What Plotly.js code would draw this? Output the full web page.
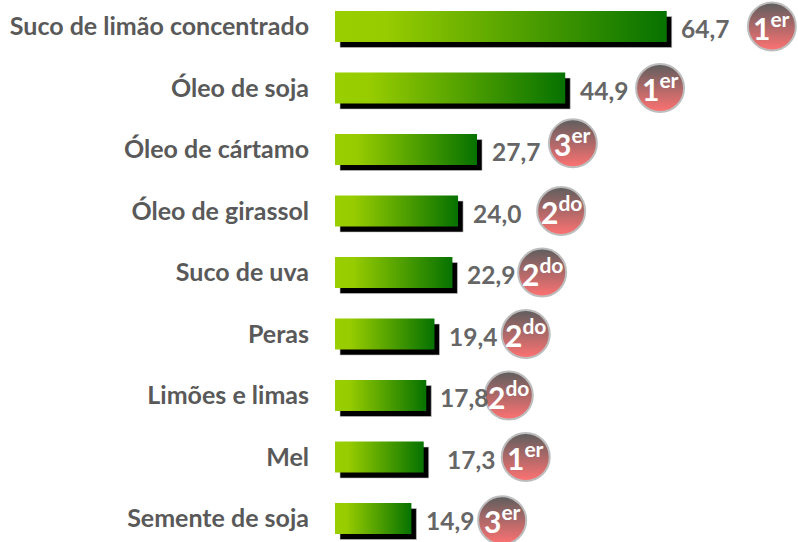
<!DOCTYPE html>
<html><head><meta charset="utf-8">
<script src="https://cdn.plot.ly/plotly-3.0.1.min.js"></script>
<style>html,body{margin:0;padding:0;background:#fff}#c{width:798px;height:542px}</style>
</head><body><div id="c"></div>
<script>
const categories=["Suco de limão concentrado","Óleo de soja","Óleo de cártamo","Óleo de girassol","Suco de uva","Peras","Limões e limas","Mel","Semente de soja"];
const values=[64.7,44.9,27.7,24.0,22.9,19.4,17.8,17.3,14.9];
const valueLabels=["64,7","44,9","27,7","24,0","22,9","19,4","17,8","17,3","14,9"];
const rows=[0,1,2,3,4,5,6,7,8];
const ranks=["1<sup>er</sup>","1<sup>er</sup>","3<sup>er</sup>","2<sup>do</sup>","2<sup>do</sup>","2<sup>do</sup>","2<sup>do</sup>","1<sup>er</sup>","3<sup>er</sup>"];
const badgeX=[85.2,63.4,46.4,44.1,40.4,37.2,33.9,37.2,32.6];
const badgeY=[0,1,1.9,3,4,5,6,7,8.03];
const labelGap=[12,13,13,13,13,13,12,21,13];

const shadow={type:'bar',orientation:'h',y:rows,x:values,base:0.98,width:0.504,offset:-0.252+0.09,marker:{color:'#000',line:{color:'#c8c8c8',width:0.6}},hoverinfo:'skip'};
const bars={type:'bar',orientation:'h',y:rows,x:values,width:0.504,offset:-0.252,marker:{color:'#55a000',line:{width:0}},hoverinfo:'skip'};
const badges={type:'scatter',mode:'markers',x:badgeX,y:badgeY,
  marker:{size:48,color:'#5e5e5e',gradient:{type:'vertical',color:'#ff7272'},line:{color:'#bdbdbd',width:2}},hoverinfo:'skip'};
const valueNotes=values.map((v,i)=>({x:v,y:rows[i],text:valueLabels[i],xref:'x',yref:'y',xanchor:'left',yanchor:'middle',xshift:labelGap[i],yshift:-2,showarrow:false,
  font:{family:'Lato, Carlito, sans-serif',size:24.5,color:'#666666',weight:700}}));
const rankNotes=ranks.map((r,i)=>({x:badgeX[i],y:badgeY[i],text:r,xref:'x',yref:'y',xanchor:'center',yanchor:'middle',yshift:1,showarrow:false,
  font:{family:'Lato, Carlito, sans-serif',size:30,color:'#ffffff',weight:700}}));
const layout={width:798,height:542,margin:{l:335,r:0,t:0,b:0},barmode:'overlay',showlegend:false,paper_bgcolor:'#fff',plot_bgcolor:'#fff',
  xaxis:{range:[0,90.3],visible:false,fixedrange:true},
  yaxis:{range:[8.382,-0.431],tickmode:'array',tickvals:rows,ticktext:categories,showgrid:false,zeroline:false,showline:false,ticks:'',ticklabelstandoff:25,
    tickfont:{family:'Lato, Carlito, sans-serif',size:25,color:'#595959',weight:700},fixedrange:true},
  annotations:valueNotes.concat(rankNotes)};
const gd=document.getElementById('c');
Plotly.newPlot(gd,[shadow,bars,badges],layout,{displayModeBar:false,staticPlot:true}).then(()=>{
  const svg=gd.querySelector('svg.main-svg');
  const NS='http://www.w3.org/2000/svg';
  const defs=svg.querySelector('defs')||svg.insertBefore(document.createElementNS(NS,'defs'),svg.firstChild);
  const g=document.createElementNS(NS,'linearGradient');g.setAttribute('id','barGrad');
  [[0,'#99cf00'],[0.15,'#97cc00'],[1,'#067200']].forEach(s=>{const st=document.createElementNS(NS,'stop');st.setAttribute('offset',s[0]);st.setAttribute('stop-color',s[1]);g.appendChild(st);});
  defs.appendChild(g);
  const traces=gd.querySelectorAll('.barlayer .trace');
  traces[1].querySelectorAll('path').forEach(p=>{p.style.fill='url(#barGrad)';});
});
</script></body></html>
